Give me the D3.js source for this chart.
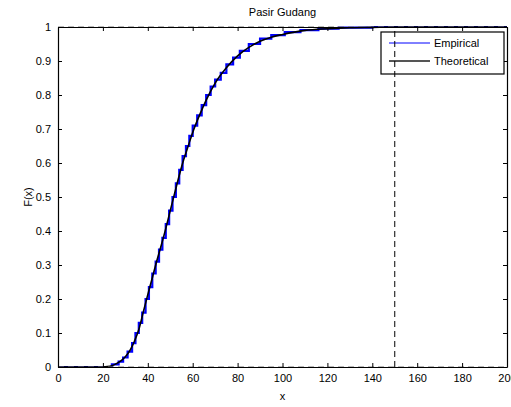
<!DOCTYPE html>
<html>
<head>
<meta charset="utf-8">
<script src="https://cdn.jsdelivr.net/npm/d3@7"></script>
<style>
  body { margin: 0; background: #fff; }
  svg text { font-family: "Liberation Sans", Arial, sans-serif; }
</style>
</head>
<body>
<div id="chart"></div>
<script>
var title = 'Pasir Gudang';
var xTicks = [0, 20, 40, 60, 80, 100, 120, 140, 160, 180, 200];
var yTicks = [0, 0.1, 0.2, 0.3, 0.4, 0.5, 0.6, 0.7, 0.8, 0.9, 1];

// theoretical cdf
var theoX = [0, 20, 22, 24, 26, 28, 30, 32, 34, 36, 38, 40, 42, 44, 46, 48, 50, 52, 54, 56, 58, 60, 63, 66, 70, 75, 80, 85, 90, 95, 100, 110, 120, 130, 140, 150, 200];
var theoF = [0, 0, 0.001, 0.004, 0.01, 0.018, 0.03, 0.048, 0.075, 0.11, 0.162, 0.213, 0.262, 0.312, 0.358, 0.407, 0.46, 0.512, 0.563, 0.61, 0.65, 0.69, 0.74, 0.785, 0.835, 0.88, 0.915, 0.94, 0.958, 0.97, 0.978, 0.99, 0.995, 0.998, 0.999, 1, 1];

// empirical cdf: jump points and level after each jump
var empX = [0, 24, 27, 29, 31, 33, 34.5, 36, 37.5, 39, 40.5, 42, 43.5, 45, 46.5, 48, 49.5, 51, 52.5, 54, 55.5, 57, 58.5, 60, 62, 64, 66, 68, 70, 72.5, 75, 78, 81, 85, 90, 95, 101, 108, 116, 125, 140, 200];
var empF = [0, 0.008, 0.016, 0.028, 0.045, 0.07, 0.1, 0.13, 0.16, 0.2, 0.235, 0.275, 0.31, 0.345, 0.38, 0.42, 0.46, 0.5, 0.54, 0.58, 0.62, 0.65, 0.68, 0.71, 0.74, 0.77, 0.8, 0.825, 0.845, 0.865, 0.89, 0.91, 0.93, 0.95, 0.966, 0.976, 0.985, 0.991, 0.995, 0.998, 1, 1];

var refX = 150;
var legendNames = ['Empirical', 'Theoretical'];

var W = 511, H = 407;
var pLeft = 58, pRight = 507, pTop = 27, pBottom = 367;

var svg = d3.select('#chart').append('svg')
  .attr('width', W)
  .attr('height', H);

var x = d3.scaleLinear().domain([0, 200]).range([pLeft, pRight]);
var y = d3.scaleLinear().domain([0, 1]).range([pBottom, pTop]);

svg.append('defs').append('clipPath').attr('id', 'clip')
  .append('rect')
  .attr('x', pLeft).attr('y', pTop - 2)
  .attr('width', pRight - pLeft).attr('height', pBottom - pTop + 4);

var plot = svg.append('g').attr('clip-path', 'url(#clip)');

var empData = empX.map(function (d, i) { return [d, empF[i]]; });
var theoData = theoX.map(function (d, i) { return [d, theoF[i]]; });

plot.append('path')
  .datum(empData)
  .attr('fill', 'none')
  .attr('stroke', '#0000ff')
  .attr('stroke-width', 2.2)
  .attr('d', d3.line()
    .x(function (d) { return x(d[0]); })
    .y(function (d) { return y(d[1]); })
    .curve(d3.curveStepAfter));

plot.append('path')
  .datum(theoData)
  .attr('fill', 'none')
  .attr('stroke', '#000')
  .attr('stroke-width', 1.6)
  .attr('d', d3.line()
    .x(function (d) { return x(d[0]); })
    .y(function (d) { return y(d[1]); })
    .curve(d3.curveMonotoneX));

// horizontal reference lines at 0 and 1
[0, 1].forEach(function (v) {
  plot.append('line')
    .attr('x1', x(0)).attr('x2', x(200))
    .attr('y1', y(v)).attr('y2', y(v))
    .attr('stroke', '#777')
    .attr('stroke-width', 1.2)
    .attr('stroke-dasharray', '6,4');
});

// axes box with inward ticks on all sides
var axB = d3.axisBottom(x).tickValues(xTicks).tickSizeInner(-4).tickSizeOuter(0).tickPadding(7);
var axL = d3.axisLeft(y).tickValues(yTicks).tickSizeInner(-4).tickSizeOuter(0).tickPadding(7)
  .tickFormat(function (d) { return d === 0 || d === 1 ? d3.format('d')(d) : d3.format('.1f')(d); });

svg.append('g').attr('transform', 'translate(0,' + pBottom + ')').call(axB);
svg.append('g').attr('transform', 'translate(' + pLeft + ',0)').call(axL);
svg.append('g').attr('transform', 'translate(0,' + pTop + ')')
  .call(d3.axisTop(x).tickValues(xTicks).tickSizeInner(-4).tickSizeOuter(0).tickFormat(''));
svg.append('g').attr('transform', 'translate(' + pRight + ',0)')
  .call(d3.axisRight(y).tickValues(yTicks).tickSizeInner(-4).tickSizeOuter(0).tickFormat(''));

svg.selectAll('.domain').attr('stroke', '#000').attr('stroke-width', 1.2);
svg.selectAll('.tick line').attr('stroke', '#000');
svg.selectAll('.tick text').attr('font-size', 11).attr('fill', '#000')
  .attr('font-family', '"Liberation Sans", Arial, sans-serif');

// legend
var lg = svg.append('g');
lg.append('rect')
  .attr('x', 381).attr('y', 32)
  .attr('width', 123).attr('height', 42)
  .attr('fill', '#fff')
  .attr('stroke', '#000')
  .attr('stroke-width', 1.2);
var lgColors = ['#0000ff', '#555'];
var lgWidths = [1, 2];
legendNames.forEach(function (name, i) {
  var ly = 43 + i * 18;
  lg.append('line')
    .attr('x1', 389).attr('x2', 430)
    .attr('y1', ly).attr('y2', ly)
    .attr('stroke', lgColors[i])
    .attr('stroke-width', lgWidths[i]);
  lg.append('text')
    .attr('x', 434).attr('y', ly + 4)
    .attr('font-size', 11)
    .text(name);
});

// vertical reference line
svg.append('line')
  .attr('x1', x(refX)).attr('x2', x(refX))
  .attr('y1', y(0)).attr('y2', y(1))
  .attr('stroke', '#000')
  .attr('stroke-width', 1)
  .attr('stroke-dasharray', '6,4');

// title and labels
svg.append('text')
  .attr('x', (pLeft + pRight) / 2).attr('y', 16)
  .attr('text-anchor', 'middle')
  .attr('font-size', 11)
  .text(title);

svg.append('text')
  .attr('x', (pLeft + pRight) / 2).attr('y', 400)
  .attr('text-anchor', 'middle')
  .attr('font-size', 11)
  .text('x');

svg.append('text')
  .attr('transform', 'translate(32,' + ((pTop + pBottom) / 2) + ') rotate(-90)')
  .attr('text-anchor', 'middle')
  .attr('font-size', 11)
  .text('F(x)');
</script>
</body>
</html>
